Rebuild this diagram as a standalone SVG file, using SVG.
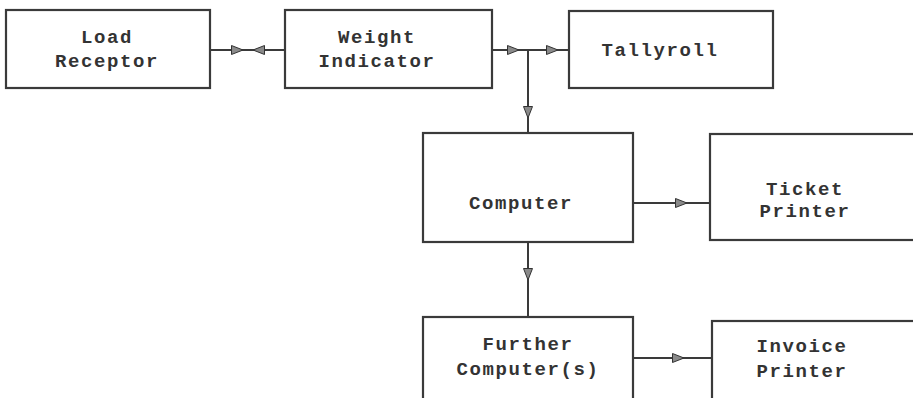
<svg xmlns="http://www.w3.org/2000/svg" width="913" height="398" viewBox="0 0 913 398">
<style>
.box{fill:#fff;stroke:#3a3a3a;stroke-width:2.2}
.t{font-family:"Liberation Mono","Courier New",monospace;font-weight:bold;font-size:19px;fill:#333;text-anchor:middle;letter-spacing:1.6px}
.c{fill:none;stroke:#3a3a3a;stroke-width:2}
</style>
<defs>
<marker id="ah" viewBox="0 0 12 10" refX="12" refY="5" markerWidth="12" markerHeight="10" markerUnits="userSpaceOnUse" orient="auto">
<path d="M0.5,0.5 L12,5 L0.5,9.5 Z" fill="#8a8a8a" stroke="#333" stroke-width="1"/>
</marker>
</defs>
<rect width="913" height="398" fill="#fff"/>
<g id="connectors">
<path class="c" d="M210,50 H253"/>
<path class="c" d="M210,50 H243" marker-end="url(#ah)"/>
<path class="c" d="M285,50 H253" marker-end="url(#ah)"/>
<path class="c" d="M492,50 H569"/>
<path class="c" d="M492,50 H519" marker-end="url(#ah)"/>
<path class="c" d="M528,50 H558" marker-end="url(#ah)"/>
<path class="c" d="M528,50 V133"/>
<path class="c" d="M528,50 V118" marker-end="url(#ah)"/>
<path class="c" d="M633,203 H710"/>
<path class="c" d="M633,203 H687" marker-end="url(#ah)"/>
<path class="c" d="M528,242 V317"/>
<path class="c" d="M528,242 V280" marker-end="url(#ah)"/>
<path class="c" d="M633,358 H712"/>
<path class="c" d="M633,358 H684" marker-end="url(#ah)"/>
</g>
<g id="load-receptor">
<rect class="box" x="6" y="10" width="204" height="78"/>
<text class="t" x="107" y="43">Load</text>
<text class="t" x="107" y="67">Receptor</text>
</g>
<g id="weight-indicator">
<rect class="box" x="285" y="10" width="207" height="78"/>
<text class="t" x="377" y="43">Weight</text>
<text class="t" x="377" y="67">Indicator</text>
</g>
<g id="tallyroll">
<rect class="box" x="569" y="11" width="204" height="77"/>
<text class="t" x="660" y="56">Tallyroll</text>
</g>
<g id="computer">
<rect class="box" x="423" y="133" width="210" height="109"/>
<text class="t" x="521" y="209">Computer</text>
</g>
<g id="ticket-printer">
<rect class="box" x="710" y="134" width="210" height="106"/>
<text class="t" x="805" y="195">Ticket</text>
<text class="t" x="805" y="217">Printer</text>
</g>
<g id="further-computers">
<rect class="box" x="423" y="317" width="210" height="100"/>
<text class="t" x="528" y="350">Further</text>
<text class="t" x="528" y="375">Computer(s)</text>
</g>
<g id="invoice-printer">
<rect class="box" x="712" y="321" width="210" height="100"/>
<text class="t" x="802" y="352">Invoice</text>
<text class="t" x="802" y="377">Printer</text>
</g>
</svg>
